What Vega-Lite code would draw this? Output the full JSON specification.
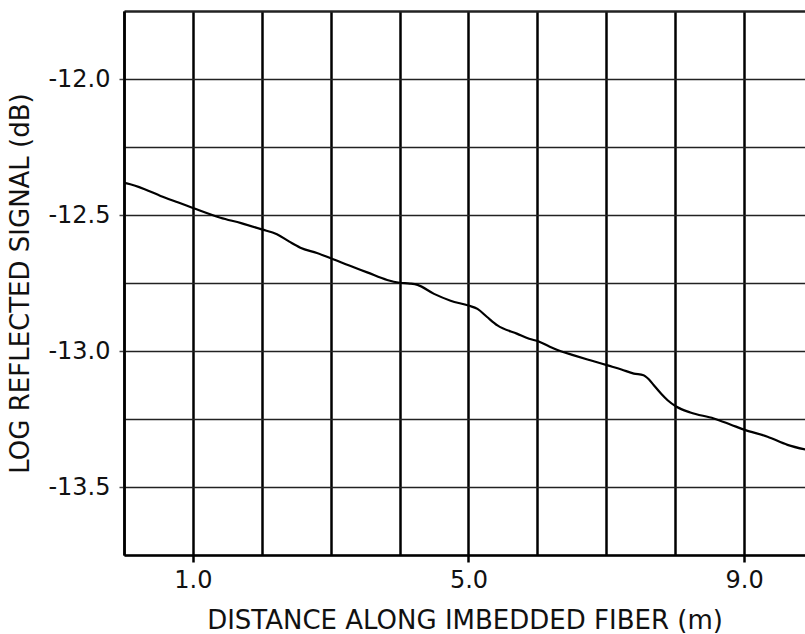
{
  "$schema": "https://vega.github.io/schema/vega-lite/v6.json",
  "width": 681,
  "height": 544,
  "autosize": "none",
  "padding": {"left": 124, "top": 11, "right": 0, "bottom": 79},
  "background": "white",
  "config": {
    "view": {"stroke": null},
    "font": "DejaVu Sans",
    "axis": {"labelFont": "DejaVu Sans", "titleFont": "DejaVu Sans", "labelColor": "#111", "titleColor": "#111", "titleFontWeight": "normal"}
  },
  "data": {
    "values": [
      {"d": 0.0, "v": -12.382},
      {"d": 0.04, "v": -12.384},
      {"d": 0.3, "v": -12.405},
      {"d": 0.53, "v": -12.43},
      {"d": 0.8, "v": -12.455},
      {"d": 1.01, "v": -12.475},
      {"d": 1.4, "v": -12.51},
      {"d": 1.7, "v": -12.53},
      {"d": 2.0, "v": -12.553},
      {"d": 2.22, "v": -12.571},
      {"d": 2.4, "v": -12.598},
      {"d": 2.56, "v": -12.62},
      {"d": 2.8, "v": -12.64},
      {"d": 3.01, "v": -12.66},
      {"d": 3.27, "v": -12.686},
      {"d": 3.53, "v": -12.711},
      {"d": 3.82, "v": -12.739},
      {"d": 4.0, "v": -12.749},
      {"d": 4.15, "v": -12.752},
      {"d": 4.26, "v": -12.757},
      {"d": 4.5, "v": -12.79},
      {"d": 4.74, "v": -12.815},
      {"d": 5.0, "v": -12.833},
      {"d": 5.13, "v": -12.845},
      {"d": 5.27, "v": -12.875},
      {"d": 5.42, "v": -12.906},
      {"d": 5.71, "v": -12.937},
      {"d": 5.88, "v": -12.955},
      {"d": 6.02, "v": -12.965},
      {"d": 6.18, "v": -12.984},
      {"d": 6.34, "v": -13.001},
      {"d": 6.53, "v": -13.016},
      {"d": 6.78, "v": -13.035},
      {"d": 7.02, "v": -13.053},
      {"d": 7.22, "v": -13.068},
      {"d": 7.4, "v": -13.083},
      {"d": 7.54, "v": -13.089},
      {"d": 7.62, "v": -13.105},
      {"d": 7.69, "v": -13.126},
      {"d": 7.8, "v": -13.158},
      {"d": 7.89, "v": -13.181},
      {"d": 8.02, "v": -13.205},
      {"d": 8.22, "v": -13.226},
      {"d": 8.56, "v": -13.248},
      {"d": 8.8, "v": -13.27},
      {"d": 9.01, "v": -13.29},
      {"d": 9.34, "v": -13.315},
      {"d": 9.63, "v": -13.345},
      {"d": 9.9, "v": -13.363}
    ]
  },
  "mark": {"type": "line", "color": "black", "strokeWidth": 2.2, "clip": true, "interpolate": "monotone"},
  "encoding": {
    "x": {
      "field": "d",
      "type": "quantitative",
      "scale": {"domain": [0, 9.884], "nice": false, "zero": false},
      "axis": {
        "title": "DISTANCE ALONG IMBEDDED FIBER (m)",
        "titleFontSize": 26,
        "titlePadding": 15,
        "values": [0, 1, 2, 3, 4, 5, 6, 7, 8, 9],
        "labelExpr": "(datum.value == 1 || datum.value == 5 || datum.value == 9) ? format(datum.value, '.1f') : ''",
        "labelFontSize": 24,
        "labelPadding": 6,
        "labelFlush": false,
        "labelOverlap": false,
        "tickSize": 7,
        "tickWidth": 2.5,
        "tickColor": "black",
        "tickOpacity": {"condition": {"test": "datum.value == 1 || datum.value == 5 || datum.value == 9", "value": 1}, "value": 0},
        "domainColor": "black",
        "domainWidth": 2.5,
        "grid": true,
        "gridColor": "black",
        "gridWidth": 2.5,
        "gridOpacity": 1
      }
    },
    "y": {
      "field": "v",
      "type": "quantitative",
      "scale": {"domain": [-13.75, -11.75], "nice": false, "zero": false},
      "axis": {
        "title": "LOG REFLECTED SIGNAL (dB)",
        "titleFontSize": 26,
        "titlePadding": 14,
        "values": [-13.75, -13.5, -13.25, -13.0, -12.75, -12.5, -12.25, -12.0, -11.75],
        "labelExpr": "(datum.value % 0.5 == 0 && datum.value != -11.75 && datum.value != -13.75) ? '-' + format(-datum.value, '.1f') : ''",
        "labelFontSize": 24,
        "labelPadding": 9,
        "labelOverlap": false,
        "labelFlush": false,
        "tickSize": 5,
        "tickWidth": 1.5,
        "tickColor": "#444",
        "tickOpacity": {"condition": {"test": "datum.value % 0.5 == 0 && datum.value != -11.75 && datum.value != -13.75", "value": 1}, "value": 0},
        "domainColor": "black",
        "domainWidth": 2.5,
        "grid": true,
        "gridColor": "#222",
        "gridWidth": {"condition": {"test": "datum.value == -11.75", "value": 2.5}, "value": 1.5},
        "gridOpacity": 1
      }
    }
  }
}
